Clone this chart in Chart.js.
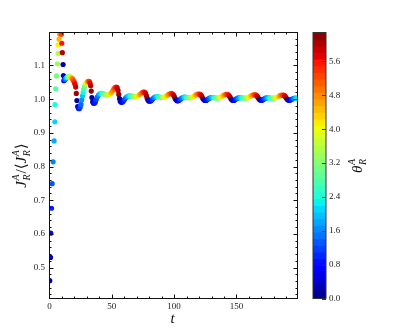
<!DOCTYPE html>
<html>
<head>
<meta charset="utf-8">
<script src="https://cdn.jsdelivr.net/npm/chart.js@4.4.1/dist/chart.umd.min.js"></script>
<style>
  html, body { margin: 0; padding: 0; background: #fff; }
  canvas { display: block; }
</style>
</head>
<body>
<canvas id="ratioChart" width="399" height="332"></canvas>
<script>
// t, J_R^A/<J_R^A> and theta_R^A for every dot
const time = [
  0.2, 0.8, 1.0, 1.6, 2.1, 2.9, 3.7, 4.3, 4.4, 5.0, 5.6, 6.4, 6.9, 7.0, 7.7, 8.3, 8.9, 9.6, 9.9, 10.3, 10.9, 11.2,
  11.5, 12.0, 12.5, 13.0, 13.5, 14.0, 14.5, 15.0, 15.5, 16.0, 16.5, 17.0, 17.5, 18.0, 18.5, 19.0, 19.5, 20.0, 20.5, 21.0, 21.5, 22.0, 22.6, 23.3, 24.0, 24.7,
  25.3, 25.9, 26.5, 27.0, 27.5, 28.0, 28.5, 29.0, 29.5, 30.0, 30.5, 31.0, 31.5, 32.0, 32.5, 33.0, 33.5, 34.0,
  34.6, 35.3, 36.0, 36.7, 37.5, 38.5, 39.5, 40.5, 41.5, 42.5, 43.5, 44.5, 45.5, 46.5, 47.5, 48.5, 49.5, 50.5, 51.5, 52.5, 53.5, 54.3, 55.0, 55.6, 56.2, 56.8, 57.5, 58.3, 59.2,
  60.2, 61.2, 62.2, 63.2, 64.2, 65.2, 66.2, 67.2, 68.2, 69.2, 70.2, 71.2, 72.2, 73.2, 74.2, 75.2, 76.2, 77.0, 77.7, 78.4, 79.1, 79.9, 80.8, 81.7,
  82.7, 83.7, 84.7, 85.7, 86.7, 87.7, 88.7, 89.7, 90.7, 91.7, 92.7, 93.7, 94.7, 95.7, 96.7, 97.7, 98.6, 99.4, 100.1, 100.8, 101.5, 102.3, 103.2, 104.1,
  105.1, 106.1, 107.1, 108.1, 109.1, 110.1, 111.1, 112.1, 113.1, 114.1, 115.1, 116.1, 117.1, 118.1, 119.1, 120.1, 121.0, 121.8, 122.5, 123.2, 123.9, 124.7, 125.6, 126.5,
  127.5, 128.5, 129.5, 130.5, 131.5, 132.5, 133.5, 134.5, 135.5, 136.5, 137.5, 138.5, 139.5, 140.5, 141.5, 142.5, 143.4, 144.2, 144.9, 145.6, 146.3, 147.1, 148.0, 148.9,
  149.9, 150.9, 151.9, 152.9, 153.9, 154.9, 155.9, 156.9, 157.9, 158.9, 159.9, 160.9, 161.9, 162.9, 163.9, 164.9, 165.8, 166.6, 167.3, 168.0, 168.7, 169.5, 170.4, 171.3,
  172.3, 173.3, 174.3, 175.3, 176.3, 177.3, 178.3, 179.3, 180.3, 181.3, 182.3, 183.3, 184.3, 185.3, 186.3, 187.3, 188.2, 189.0, 189.7, 190.4, 191.1, 191.9, 192.8, 193.7,
  194.7, 195.7, 196.7, 197.7, 198.5
];
const ratio = [
  0.461, 0.530, 0.602, 0.676, 0.749, 0.814, 0.876, 0.933, 0.984, 1.031, 1.069, 1.105, 1.136, 1.161, 1.178, 1.193, 1.205, 1.193, 1.166, 1.138, 1.103, 1.070,
  1.055, 1.057, 1.059, 1.061, 1.063, 1.064, 1.065, 1.066, 1.066, 1.066, 1.066, 1.065, 1.064, 1.062, 1.060, 1.057, 1.053, 1.049, 1.044, 1.036, 1.017, 0.996, 0.978, 0.972, 0.972, 0.977,
  0.985, 0.998, 1.010, 1.020, 1.029, 1.036, 1.041, 1.045, 1.048, 1.050, 1.052, 1.053, 1.053, 1.052, 1.048, 1.040, 1.024, 1.005,
  0.992, 0.988, 0.988, 0.991, 0.999, 1.007, 1.013, 1.016, 1.017, 1.017, 1.016, 1.014, 1.013, 1.012, 1.013, 1.015, 1.019, 1.024, 1.030, 1.034, 1.036, 1.034, 1.026, 1.014, 1.002, 0.994, 0.991, 0.991, 0.994,
  0.999, 1.004, 1.007, 1.009, 1.010, 1.010, 1.009, 1.008, 1.007, 1.007, 1.008, 1.010, 1.013, 1.016, 1.019, 1.021, 1.021, 1.018, 1.011, 1.003, 0.997, 0.994, 0.994, 0.996,
  1.000, 1.004, 1.006, 1.007, 1.008, 1.007, 1.006, 1.005, 1.005, 1.005, 1.007, 1.009, 1.012, 1.014, 1.016, 1.017, 1.016, 1.013, 1.008, 1.002, 0.998, 0.995, 0.995, 0.997,
  1.000, 1.003, 1.005, 1.006, 1.006, 1.005, 1.004, 1.004, 1.004, 1.005, 1.007, 1.009, 1.012, 1.014, 1.015, 1.015, 1.014, 1.011, 1.006, 1.001, 0.998, 0.996, 0.996, 0.998,
  1.001, 1.003, 1.005, 1.005, 1.005, 1.004, 1.004, 1.003, 1.004, 1.005, 1.006, 1.008, 1.011, 1.013, 1.014, 1.014, 1.013, 1.010, 1.006, 1.001, 0.998, 0.996, 0.996, 0.998,
  1.001, 1.003, 1.004, 1.004, 1.004, 1.004, 1.003, 1.003, 1.003, 1.004, 1.006, 1.008, 1.010, 1.012, 1.013, 1.013, 1.012, 1.009, 1.005, 1.001, 0.998, 0.997, 0.997, 0.998,
  1.001, 1.003, 1.004, 1.004, 1.004, 1.003, 1.003, 1.003, 1.003, 1.004, 1.005, 1.007, 1.009, 1.011, 1.012, 1.012, 1.011, 1.009, 1.005, 1.001, 0.998, 0.997, 0.997, 0.998,
  1.000, 1.002, 1.003, 1.003, 1.003
];
const theta = [
  0.15, 0.4, 0.7, 1.0, 1.3, 1.6, 1.85, 2.1, 2.4, 2.8, 3.1, 3.35, 3.65, 4.1, 4.5, 4.8, 5.0, 5.3, 5.6, 6.0, 0.15, 0.45,
  0.7, 1.0, 1.3, 1.6, 1.9, 2.2, 2.5, 2.8, 3.1, 3.4, 3.7, 4.0, 4.3, 4.6, 4.9, 5.1, 5.3, 5.5, 5.7, 5.9, 6.1, 0.15, 0.45, 0.7, 0.95, 1.2,
  1.45, 1.7, 2.0, 2.3, 2.6, 2.9, 3.2, 3.5, 3.85, 4.2, 4.5, 4.8, 5.1, 5.4, 5.7, 5.95, 6.2, 0.2,
  0.37, 0.56, 0.75, 0.95, 1.17, 1.44, 1.72, 2.0, 2.27, 2.55, 2.82, 3.1, 3.37, 3.65, 3.93, 4.2, 4.48, 4.75, 5.03, 5.3, 5.58, 5.8, 6.0, 6.16, 0.05, 0.22, 0.41, 0.63, 0.88,
  1.15, 1.43, 1.71, 1.99, 2.27, 2.55, 2.83, 3.1, 3.38, 3.66, 3.94, 4.22, 4.5, 4.78, 5.06, 5.34, 5.62, 5.84, 6.04, 6.24, 0.15, 0.37, 0.62, 0.87,
  1.15, 1.43, 1.71, 1.99, 2.27, 2.55, 2.83, 3.1, 3.38, 3.66, 3.94, 4.22, 4.5, 4.78, 5.06, 5.34, 5.6, 5.82, 6.02, 6.22, 0.13, 0.36, 0.61, 0.86,
  1.14, 1.42, 1.7, 1.98, 2.26, 2.54, 2.82, 3.1, 3.38, 3.66, 3.94, 4.22, 4.5, 4.78, 5.06, 5.34, 5.6, 5.82, 6.02, 6.22, 0.13, 0.36, 0.61, 0.86,
  1.14, 1.42, 1.7, 1.98, 2.26, 2.54, 2.82, 3.1, 3.38, 3.66, 3.94, 4.22, 4.5, 4.78, 5.06, 5.34, 5.6, 5.82, 6.02, 6.22, 0.13, 0.36, 0.61, 0.86,
  1.14, 1.42, 1.7, 1.98, 2.26, 2.54, 2.82, 3.1, 3.38, 3.66, 3.94, 4.22, 4.5, 4.78, 5.06, 5.34, 5.6, 5.82, 6.02, 6.22, 0.13, 0.36, 0.61, 0.86,
  1.14, 1.42, 1.7, 1.98, 2.26, 2.54, 2.82, 3.1, 3.38, 3.66, 3.94, 4.22, 4.5, 4.78, 5.06, 5.34, 5.6, 5.82, 6.02, 6.22, 0.13, 0.36, 0.61, 0.86,
  1.14, 1.42, 1.7, 1.98, 2.2
];

const xTicks = [0, 50, 100, 150];
const yTicks = [0.5, 0.6, 0.7, 0.8, 0.9, 1.0, 1.1];
const cbTicks = [0.0, 0.8, 1.6, 2.4, 3.2, 4.0, 4.8, 5.6];
const xRange = [0, 199];
const yRange = [0.408, 1.198];
const cbRange = [0, 2 * Math.PI];

const SERIF = '"Liberation Serif", "DejaVu Serif", serif';

// matplotlib "jet"
function jet(v) {
  v = Math.min(1, Math.max(0, v));
  const seg = (pts) => {
    for (let i = 1; i < pts.length; i++) {
      if (v <= pts[i][0]) {
        const [x0, y0] = pts[i - 1], [x1, y1] = pts[i];
        return y0 + (y1 - y0) * (v - x0) / (x1 - x0);
      }
    }
    return pts[pts.length - 1][1];
  };
  const r = seg([[0, 0], [0.35, 0], [0.66, 1], [0.89, 1], [1, 0.5]]);
  const g = seg([[0, 0], [0.125, 0], [0.375, 1], [0.64, 1], [0.91, 0], [1, 0]]);
  const b = seg([[0, 0.5], [0.11, 1], [0.34, 1], [0.65, 0], [1, 0]]);
  return `rgb(${Math.round(r * 255)},${Math.round(g * 255)},${Math.round(b * 255)})`;
}

function mathLabel(ctx, tokens, cx, cy, angle, size) {
  const small = Math.round(size * 0.68);
  const font = (sz, it) => `${it ? 'italic ' : ''}${sz}px ${SERIF}`;
  const widths = tokens.map((tk) => {
    if (tk.text !== undefined) {
      ctx.font = font(size, tk.italic);
      return ctx.measureText(tk.text).width + (tk.italic ? 0.5 : 0);
    }
    ctx.font = font(small, true);
    return Math.max(ctx.measureText(tk.sub).width, ctx.measureText(tk.sup).width) + 1;
  });
  const total = widths.reduce((s, w) => s + w, 0);
  ctx.save();
  ctx.translate(cx, cy);
  ctx.rotate(angle);
  ctx.fillStyle = '#111';
  ctx.textAlign = 'left';
  ctx.textBaseline = 'alphabetic';
  let xx = -total / 2;
  const base = size * 0.33;
  tokens.forEach((tk, i) => {
    if (tk.text !== undefined) {
      ctx.font = font(size, tk.italic);
      ctx.fillText(tk.text, xx, base);
    } else {
      ctx.font = font(small, true);
      ctx.fillText(tk.sub, xx, base + size * 0.25);
      ctx.fillText(tk.sup, xx, base - size * 0.45);
    }
    xx += widths[i];
  });
  ctx.restore();
}

const decor = {
  id: 'decor',
  afterDraw(chart) {
    const { ctx, chartArea: a, scales } = chart;
    const xs = scales.x, ys = scales.y, cb = scales.cb;
    const px = (v) => Math.round(xs.getPixelForValue(v)) + 0.5;
    const py = (v) => Math.round(ys.getPixelForValue(v)) + 0.5;
    ctx.save();
    ctx.strokeStyle = '#111';
    ctx.lineWidth = 1;
    ctx.strokeRect(a.left, a.top, a.right - a.left, a.bottom - a.top);

    // inward ticks on all four sides
    ctx.beginPath();
    for (let v = 10; v < xRange[1]; v += 10) {
      const len = v % 50 === 0 ? 4 : 2;
      const p = px(v);
      ctx.moveTo(p, a.bottom); ctx.lineTo(p, a.bottom - len);
      ctx.moveTo(p, a.top); ctx.lineTo(p, a.top + len);
    }
    for (let k = 21; k <= 59; k++) {
      const v = k / 50;
      if (v <= yRange[0] || v >= yRange[1]) continue;
      const len = k % 5 === 0 ? 4 : 2;
      const p = py(v);
      ctx.moveTo(a.left, p); ctx.lineTo(a.left + len, p);
      ctx.moveTo(a.right, p); ctx.lineTo(a.right - len, p);
    }
    ctx.stroke();

    // colour bar
    const x0 = a.right + 15.5, w = 13;
    const top = cb.getPixelForValue(cbRange[1]);
    const bot = cb.getPixelForValue(cbRange[0]);
    const n = 40;
    for (let i = 0; i < n; i++) {
      const y1 = bot + (top - bot) * i / n;
      const y2 = bot + (top - bot) * (i + 1) / n;
      ctx.fillStyle = jet((i + 0.5) / n);
      ctx.fillRect(x0, Math.min(y1, y2) - 0.5, w, Math.abs(y2 - y1) + 1);
    }
    ctx.strokeStyle = '#333';
    ctx.strokeRect(x0, top, w, bot - top);
    ctx.beginPath();
    cbTicks.forEach((v) => {
      const p = Math.round(cb.getPixelForValue(v)) + 0.5;
      ctx.moveTo(x0 + w, p); ctx.lineTo(x0 + w - 4, p);
    });
    ctx.stroke();
    ctx.restore();

    // axis titles
    ctx.save();
    ctx.fillStyle = '#111';
    ctx.font = `italic 15px ${SERIF}`;
    ctx.textAlign = 'center';
    ctx.textBaseline = 'middle';
    ctx.fillText('t', (a.left + a.right) / 2 - 1, 319);
    ctx.restore();

    mathLabel(ctx, [
      { text: 'J', italic: true }, { sub: 'R', sup: 'A' },
      { text: '/', italic: false }, { text: '\u27E8', italic: false },
      { text: 'J', italic: true }, { sub: 'R', sup: 'A' },
      { text: '\u27E9', italic: false }
    ], 21, (a.top + a.bottom) / 2, -Math.PI / 2, 15);

    mathLabel(ctx, [
      { text: '\u03B8', italic: true }, { sub: 'R', sup: 'A' }
    ], 357, (a.top + a.bottom) / 2, -Math.PI / 2, 15);
  }
};

const points = time.map((t, i) => ({ x: t, y: ratio[i] }));
const colors = theta.map((th) => jet(th / (2 * Math.PI)));

const tickFont = { family: SERIF, size: 9 };
const noPad = (s) => { s.paddingTop = 0; s.paddingBottom = 0; s.paddingLeft = 0; s.paddingRight = 0; };

new Chart(document.getElementById('ratioChart').getContext('2d'), {
  type: 'scatter',
  data: {
    datasets: [{
      data: points,
      pointBackgroundColor: colors,
      pointBorderWidth: 0,
      pointRadius: 2.6,
      clip: 0
    }]
  },
  options: {
    responsive: false,
    animation: false,
    devicePixelRatio: 1,
    layout: { padding: { top: 32.5, left: 0, right: 0, bottom: 0 } },
    plugins: { legend: { display: false }, tooltip: { enabled: false } },
    scales: {
      x: {
        type: 'linear',
        min: xRange[0],
        max: xRange[1],
        afterBuildTicks: (s) => { s.ticks = xTicks.map((v) => ({ value: v })); },
        afterFit: (s) => { s.height = 33.5; noPad(s); },
        grid: { display: false, drawTicks: false },
        border: { display: false },
        ticks: { font: tickFont, color: '#222', padding: 3, maxRotation: 0, callback: (v) => String(v) }
      },
      y: {
        type: 'linear',
        position: 'left',
        min: yRange[0],
        max: yRange[1],
        afterBuildTicks: (s) => { s.ticks = yTicks.map((v) => ({ value: v })); },
        afterFit: (s) => { s.width = 49.5; noPad(s); },
        grid: { display: false, drawTicks: false },
        border: { display: false },
        ticks: { font: tickFont, color: '#222', padding: 4.5, callback: (v) => v.toFixed(1) }
      },
      cb: {
        type: 'linear',
        position: 'right',
        min: cbRange[0],
        max: cbRange[1],
        afterBuildTicks: (s) => { s.ticks = cbTicks.map((v) => ({ value: v })); },
        afterFit: (s) => { s.width = 101.5; noPad(s); },
        grid: { display: false, drawTicks: false },
        border: { display: false },
        ticks: { font: tickFont, color: '#222', padding: 31.5, callback: (v) => v.toFixed(1) }
      }
    }
  },
  plugins: [decor]
});
</script>
</body>
</html>
